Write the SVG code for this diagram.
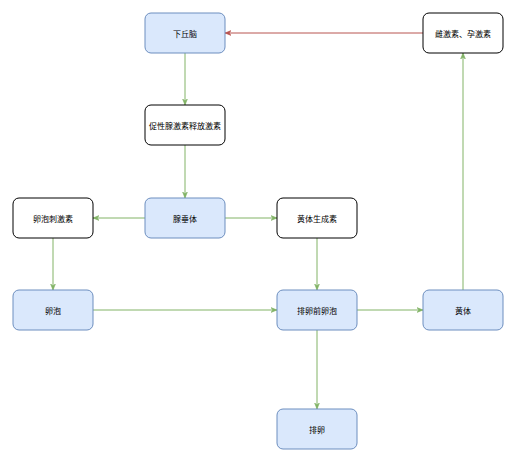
<svg xmlns="http://www.w3.org/2000/svg" width="516" height="463" viewBox="0 0 516 463">
<style>
.blue rect{fill:#dae8fc;stroke:#6c8ebf;stroke-width:1}
.white rect{fill:#ffffff;stroke:#000000;stroke-width:1}
text{font-family:"Noto Sans CJK SC","Liberation Sans",sans-serif;font-size:8px;fill:#000;text-anchor:middle;dominant-baseline:central}
.g{stroke:#82b366;stroke-width:1;fill:none;marker-end:url(#ag)}
.r{stroke:#b85450;stroke-width:1;fill:none;marker-end:url(#ar)}
</style>
<defs>
<marker id="ag" viewBox="0 0 10 10" refX="10" refY="5" markerWidth="6" markerHeight="6" orient="auto" markerUnits="userSpaceOnUse"><path d="M0,1 L10,5 L0,9 L3,5 Z" fill="#82b366" stroke="#82b366"/></marker>
<marker id="ar" viewBox="0 0 10 10" refX="10" refY="5" markerWidth="6" markerHeight="6" orient="auto" markerUnits="userSpaceOnUse"><path d="M0,1 L10,5 L0,9 L3,5 Z" fill="#b85450" stroke="#b85450"/></marker>
</defs>
<rect width="516" height="463" fill="#ffffff"/>
<g id="edges">
<path class="r" d="M423,33 L225,33"/>
<path class="g" d="M185,53 L185,105"/>
<path class="g" d="M185,145 L185,198"/>
<path class="g" d="M145,218 L93,218"/>
<path class="g" d="M225,218 L277,218"/>
<path class="g" d="M53,238 L53,290"/>
<path class="g" d="M317,238 L317,290"/>
<path class="g" d="M93,310 L277,310"/>
<path class="g" d="M357,310 L423,310"/>
<path class="g" d="M317,330 L317,409"/>
<path class="g" d="M463,290 L463,53"/>
</g>
<g id="n1" class="blue"><rect x="145" y="13" width="80" height="40" rx="6"/><text x="185" y="33">下丘脑</text></g>
<g id="n2" class="white"><rect x="145" y="105" width="80" height="40" rx="6"/><text x="185" y="125">促性腺激素释放激素</text></g>
<g id="n3" class="white"><rect x="423" y="13" width="80" height="40" rx="6"/><text x="463" y="33">雌激素、孕激素</text></g>
<g id="n4" class="white"><rect x="13" y="198" width="80" height="40" rx="6"/><text x="53" y="218">卵泡刺激素</text></g>
<g id="n5" class="blue"><rect x="145" y="198" width="80" height="40" rx="6"/><text x="185" y="218">腺垂体</text></g>
<g id="n6" class="white"><rect x="277" y="198" width="80" height="40" rx="6"/><text x="317" y="218">黄体生成素</text></g>
<g id="n7" class="blue"><rect x="13" y="290" width="80" height="40" rx="6"/><text x="53" y="310">卵泡</text></g>
<g id="n8" class="blue"><rect x="277" y="290" width="80" height="40" rx="6"/><text x="317" y="310">排卵前卵泡</text></g>
<g id="n9" class="blue"><rect x="423" y="290" width="80" height="40" rx="6"/><text x="463" y="310">黄体</text></g>
<g id="n10" class="blue"><rect x="277" y="409" width="80" height="40" rx="6"/><text x="317" y="429">排卵</text></g>
</svg>
